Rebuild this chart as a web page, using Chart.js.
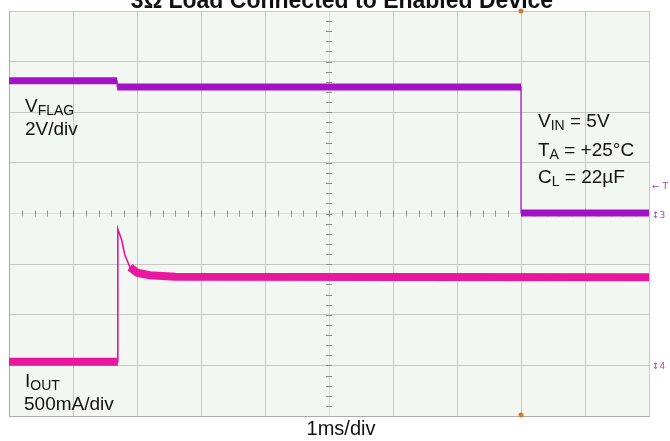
<!DOCTYPE html>
<html>
<head>
<meta charset="utf-8">
<script src="https://cdn.jsdelivr.net/npm/chart.js@4"></script>
<style>
  html, body { margin: 0; padding: 0; background: #fff; }
</style>
</head>
<body>
<canvas id="scope" width="670" height="441"></canvas>
<script>
// Horizontal axis: time in ms (1ms/div). Vertical axis: screen divisions.
const flagTime = [0, 1.69, 1.69, 8.0, 8.0, 10];
const flagLevel = [2.62, 2.62, 2.50, 2.50, 0.01, 0.01];

const ioutTime = [0, 1.70, 1.70, 1.76, 1.81, 1.89, 2.0, 2.2, 2.6, 10];
const ioutLevel = [-2.93, -2.93, -0.31, -0.52, -0.82, -1.06, -1.17, -1.22, -1.25, -1.26];

const triggerTime = 8.0;

const FLAG_COLOR = '#a312c6';
const IOUT_COLOR = '#e8179e';
const FONT = '"Liberation Sans", Arial, sans-serif';

function points(t, v) {
  return t.map((x, i) => ({ x: x, y: v[i] }));
}

// noisy band: only on the flat stretches of a trace, not on the edges
function flatParts(t, v, maxSlope) {
  const out = [];
  let open = false;
  for (let i = 0; i < t.length - 1; i++) {
    const dt = t[i + 1] - t[i];
    const flat = dt > 0 && Math.abs((v[i + 1] - v[i]) / dt) < maxSlope;
    if (flat) {
      if (!open) out.push({ x: t[i], y: v[i] });
      out.push({ x: t[i + 1], y: v[i + 1] });
      open = true;
    } else if (open) {
      out.push({ x: t[i], y: null });
      open = false;
    }
  }
  return out;
}

function drawSub(ctx, main, sub, rest, x, y, size) {
  ctx.font = size + 'px ' + FONT;
  ctx.fillText(main, x, y);
  x += ctx.measureText(main).width;
  ctx.font = Math.round(size * 0.74) + 'px ' + FONT;
  ctx.fillText(sub, x, y + 3);
  x += ctx.measureText(sub).width;
  if (rest) {
    ctx.font = size + 'px ' + FONT;
    ctx.fillText(rest, x, y);
  }
}

const scopeDecor = {
  id: 'scopeDecor',
  beforeDraw(chart) {
    const { ctx, chartArea: a } = chart;
    ctx.save();
    ctx.fillStyle = '#f3f7f1';
    ctx.fillRect(a.left, a.top, a.right - a.left, a.bottom - a.top);
    ctx.restore();
  },
  beforeDatasetsDraw(chart) {
    // minor ticks on the centre crosshair
    const { ctx, scales } = chart;
    const xs = scales.x, ys = scales.y;
    const cx = xs.getPixelForValue(5), cy = ys.getPixelForValue(0);
    ctx.save();
    ctx.strokeStyle = '#8d918d';
    ctx.lineWidth = 1;
    ctx.beginPath();
    for (let i = 1; i < 50; i++) {
      const px = Math.round(xs.getPixelForValue(i * 0.2)) + 0.5;
      ctx.moveTo(px, cy - 3);
      ctx.lineTo(px, cy + 3);
    }
    for (let i = 1; i < 40; i++) {
      const py = Math.round(ys.getPixelForValue(-4 + i * 0.2)) + 0.5;
      ctx.moveTo(cx - 3, py);
      ctx.lineTo(cx + 3, py);
    }
    ctx.stroke();
    ctx.restore();
  },
  afterDraw(chart) {
    const { ctx, chartArea: a, scales } = chart;
    ctx.save();
    ctx.fillStyle = '#111';
    ctx.textBaseline = 'alphabetic';

    // title, mostly cut off at the top of the picture
    ctx.textAlign = 'center';
    ctx.font = 'bold 23px ' + FONT;
    ctx.fillText('3Ω Load Connected to Enabled Device', 342, 8);

    ctx.font = '20px ' + FONT;
    ctx.fillText('1ms/div', 341, 435);

    ctx.textAlign = 'left';
    drawSub(ctx, 'V', 'FLAG', '', a.left + 16, 112, 19);
    ctx.font = '19px ' + FONT;
    ctx.fillText('2V/div', a.left + 16, 135);

    drawSub(ctx, 'I', 'OUT', '', a.left + 16, 387, 19);
    ctx.font = '19px ' + FONT;
    ctx.fillText('500mA/div', a.left + 15, 410);

    drawSub(ctx, 'V', 'IN', ' = 5V', 538, 127, 19);
    drawSub(ctx, 'T', 'A', ' = +25°C', 538, 156, 19);
    drawSub(ctx, 'C', 'L', ' = 22µF', 538, 183, 19);

    // trigger markers
    const tx = scales.x.getPixelForValue(triggerTime);
    ctx.fillStyle = '#d27a2c';
    ctx.beginPath();
    ctx.arc(tx, a.top, 2.5, 0, Math.PI * 2);
    ctx.arc(tx, a.bottom - 1, 2.5, 0, Math.PI * 2);
    ctx.fill();

    // channel markers at the right edge
    ctx.font = '9px "DejaVu Sans", sans-serif';
    ctx.fillStyle = '#9a48b4';
    ctx.fillText('← T', a.right + 3, 189);
    ctx.fillText('↕3', a.right + 3, scales.y.getPixelForValue(0) + 4);
    ctx.fillStyle = '#d0409a';
    ctx.fillText('↕4', a.right + 3, scales.y.getPixelForValue(-3) + 4);
    ctx.restore();
  }
};

const gridColor = c => (c.tick && c.tick.value === 0) || (c.tick && c.tick.value === 5 && c.scale.axis === 'x') ? '#d9dcd8' : '#c5c8c5';

new Chart(document.getElementById('scope'), {
  type: 'line',
  data: {
    datasets: [
      { data: flatParts(flagTime, flagLevel, 1.2), borderColor: FLAG_COLOR, borderWidth: 7 },
      { data: points(flagTime, flagLevel), borderColor: FLAG_COLOR, borderWidth: 1.2 },
      { data: flatParts(ioutTime, ioutLevel, 1.2), borderColor: IOUT_COLOR, borderWidth: 8, borderJoinStyle: 'round' },
      { data: points(ioutTime, ioutLevel), borderColor: IOUT_COLOR, borderWidth: 1.6 }
    ]
  },
  options: {
    responsive: false,
    animation: false,
    devicePixelRatio: 1,
    spanGaps: false,
    layout: { padding: { left: 9, top: 11, right: 21, bottom: 25 } },
    elements: {
      point: { radius: 0 },
      line: { tension: 0, borderCapStyle: 'butt', fill: false }
    },
    plugins: { legend: { display: false }, tooltip: { enabled: false } },
    scales: {
      x: {
        type: 'linear',
        min: 0,
        max: 10,
        ticks: { display: false, stepSize: 1 },
        grid: { color: gridColor, drawTicks: false },
        border: { color: '#a9aca9' }
      },
      y: {
        type: 'linear',
        min: -4,
        max: 4,
        ticks: { display: false, stepSize: 1 },
        grid: { color: gridColor, drawTicks: false },
        border: { color: '#a9aca9' }
      }
    }
  },
  plugins: [scopeDecor]
});
</script>
</body>
</html>
